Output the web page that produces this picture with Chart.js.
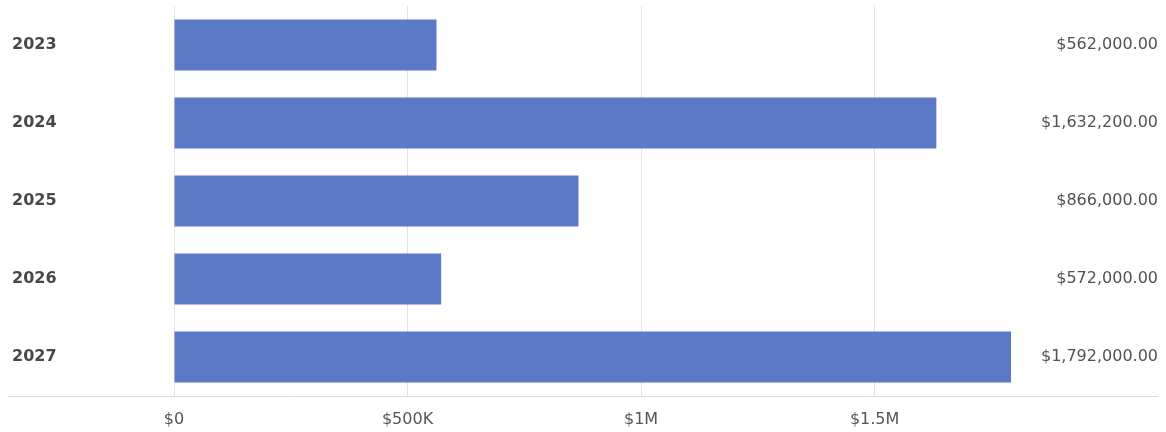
<!DOCTYPE html>
<html>
<head>
<meta charset="utf-8">
<script src="https://cdn.jsdelivr.net/npm/chart.js@4.4.1/dist/chart.umd.min.js"></script>
<style>
    html, body {
        margin: 0;
        padding: 0;
        background: #ffffff;
    }
    #wrap {
        position: relative;
        width: 1166px;
        height: 432px;
    }
</style>
</head>
<body>
<div id="wrap"><canvas id="budget-chart"></canvas></div>
<script>
const years = ['2023', '2024', '2025', '2026', '2027'];
const amounts = [562000, 1632200, 866000, 572000, 1792000];
const tickValues = [0, 500000, 1000000, 1500000];
const tickLabels = ['$0', '$500K', '$1M', '$1.5M'];

const fontFamily = '"DejaVu Sans", sans-serif';
const barColor = '#5b79c6';

function formatAmount(v) {
    return '$' + v.toLocaleString('en-US', {minimumFractionDigits: 2, maximumFractionDigits: 2});
}

const amountLabels = amounts.map(formatAmount);

// right column of amounts should end at the same place whatever the font width is
const valueFont = {family: fontFamily, size: 16};
const ctxMeasure = document.createElement('canvas').getContext('2d');
ctxMeasure.font = valueFont.size + 'px ' + fontFamily;
const widestAmount = Math.max(...amountLabels.map(t => ctxMeasure.measureText(t).width));
const rightColumnWidth = 147;

// the side columns must not push the plot area down
function fixWidth(width) {
    return function (scale) {
        scale.width = width;
        scale.paddingTop = 0;
        scale.paddingBottom = 0;
    };
}

// thin rule under the bars, running the whole width
const baseLine = {
    id: 'baseLine',
    beforeDatasetsDraw(chart) {
        const ctx = chart.ctx;
        const y = chart.chartArea.bottom + 0.5;
        ctx.save();
        ctx.strokeStyle = '#dcdcdc';
        ctx.lineWidth = 1;
        ctx.beginPath();
        ctx.moveTo(8, y);
        ctx.lineTo(chart.width - 8, y);
        ctx.stroke();
        ctx.restore();
    }
};

new Chart(document.querySelector('#budget-chart'), {
    type: 'bar',
    data: {
        labels: years,
        datasets: [{
            data: amounts,
            backgroundColor: barColor,
            borderWidth: 0,
            categoryPercentage: 1,
            barPercentage: 0.655,
            yAxisID: 'y',
        }]
    },
    options: {
        indexAxis: 'y',
        responsive: true,
        maintainAspectRatio: false,
        animation: false,
        layout: {
            padding: {top: 6, right: 8, bottom: 0, left: 12}
        },
        plugins: {
            legend: {display: false},
            tooltip: {enabled: false}
        },
        scales: {
            x: {
                min: 0,
                max: Math.max(...amounts),
                afterBuildTicks: function (scale) {
                    scale.ticks = tickValues.map(v => ({value: v}));
                },
                afterFit: function (scale) {
                    scale.height = 36;
                },
                grid: {
                    color: '#e4e4e4',
                    lineWidth: 1,
                    drawTicks: false,
                },
                border: {display: false},
                ticks: {
                    padding: 14,
                    color: '#555555',
                    font: {family: fontFamily, size: 16},
                    callback: function (value) {
                        const i = tickValues.indexOf(value);
                        return i === -1 ? '' : tickLabels[i];
                    }
                }
            },
            y: {
                type: 'category',
                position: 'left',
                afterFit: fixWidth(162),
                grid: {display: false, drawTicks: false},
                border: {display: false},
                ticks: {
                    crossAlign: 'far',
                    padding: 0,
                    color: '#474747',
                    font: {family: fontFamily, size: 16, weight: 'bold'}
                }
            },
            y2: {
                type: 'category',
                position: 'right',
                labels: amountLabels,
                offset: true,
                afterFit: fixWidth(rightColumnWidth),
                grid: {display: false, drawTicks: false},
                border: {display: false},
                ticks: {
                    crossAlign: 'far',
                    padding: rightColumnWidth - widestAmount,
                    color: '#525252',
                    font: valueFont
                }
            }
        }
    },
    plugins: [baseLine]
});
</script>
</body>
</html>
